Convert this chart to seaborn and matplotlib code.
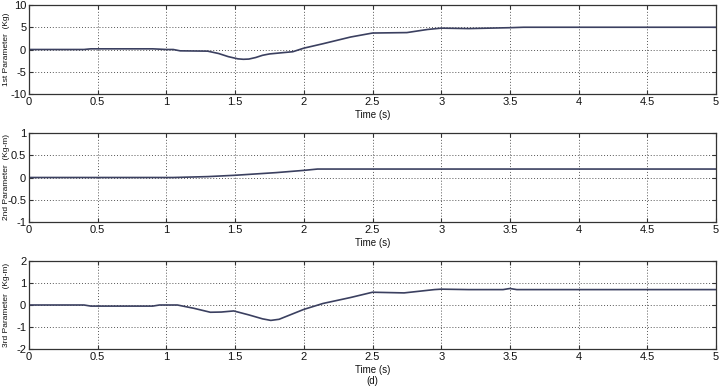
import numpy as np
import pandas as pd
import matplotlib
matplotlib.use("Agg")
import matplotlib.pyplot as plt
import seaborn as sns

# Data
t1 = [0.0, 0.4, 0.45, 0.9, 1.0, 1.05, 1.1, 1.3, 1.38, 1.45, 1.52, 1.56, 1.6, 1.65, 1.7, 1.75, 1.85, 1.92, 2.0, 2.14, 2.34, 2.5, 2.75, 2.9, 3.0, 3.2, 3.5, 3.6, 5.0]
p1 = [0.0, 0.0, 0.15, 0.15, 0.0, 0.0, -0.3, -0.37, -0.9, -1.6, -2.1, -2.2, -2.15, -1.8, -1.3, -1.0, -0.7, -0.5, 0.3, 1.3, 2.8, 3.7, 3.8, 4.5, 4.8, 4.7, 4.9, 5.0, 5.0]

t2 = [0.0, 1.05, 1.3, 1.5, 1.8, 2.0, 2.1, 5.0]
p2 = [0.0, 0.0, 0.02, 0.05, 0.11, 0.16, 0.19, 0.19]

t3 = [0.0, 0.4, 0.45, 0.9, 0.95, 1.08, 1.2, 1.32, 1.4, 1.49, 1.6, 1.7, 1.76, 1.82, 1.9, 2.0, 2.14, 2.34, 2.5, 2.73, 2.95, 3.0, 3.2, 3.45, 3.5, 3.55, 5.0]
p3 = [0.0, 0.0, -0.05, -0.05, 0.0, 0.0, -0.15, -0.33, -0.32, -0.27, -0.45, -0.63, -0.7, -0.65, -0.45, -0.2, 0.07, 0.34, 0.58, 0.55, 0.7, 0.72, 0.7, 0.7, 0.75, 0.7, 0.7]

ylabels = ["1st Parameter  (Kg)", "2nd Parameter  (Kg-m)", "3rd Parameter  (Kg-m)"]
ylims = [(-10, 10), (-1, 1), (-2, 2)]
yticks = [[-10, -5, 0, 5, 10], [-1, -0.5, 0, 0.5, 1], [-2, -1, 0, 1, 2]]
ytick_labels = [["-10", "-5", "0", "5", "10"], ["-1", "-0.5", "0", "0.5", "1"], ["-2", "-1", "0", "1", "2"]]
xticks = [0, 0.5, 1, 1.5, 2, 2.5, 3, 3.5, 4, 4.5, 5]
xtick_labels = ["0", "0.5", "1", "1.5", "2", "2.5", "3", "3.5", "4", "4.5", "5"]

sns.set_theme(style="white")
plt.rcParams["font.family"] = ["Liberation Sans", "DejaVu Sans"]

fig = plt.figure(figsize=(7.2, 3.91), dpi=100)
W, H = 720.0, 391.0
boxes = [(5, 94), (133, 222), (261, 349)]
left, right = 29, 716

series = [(t1, p1), (t2, p2), (t3, p3)]
for i, ((tt, pp), (top, bot)) in enumerate(zip(series, boxes)):
    ax = fig.add_axes([left / W, 1 - bot / H, (right - left) / W, (bot - top) / H])
    df = pd.DataFrame({"t": tt, "v": pp})
    sns.lineplot(data=df, x="t", y="v", ax=ax, color="#3b4060", linewidth=1.2)
    ax.set_xlim(0, 5)
    ax.set_ylim(*ylims[i])
    ax.set_xticks(xticks)
    ax.set_xticklabels(xtick_labels)
    ax.set_yticks(yticks[i])
    ax.set_yticklabels(ytick_labels[i])
    ax.grid(True, linestyle=(0, (1, 2)), color="#555555", linewidth=0.7)
    for s in ax.spines.values():
        s.set_visible(True)
        s.set_color("#333333")
        s.set_linewidth(0.9)
    ax.tick_params(axis="both", direction="in", length=3, width=0.8, color="#333333",
                   labelsize=8, pad=2, top=True, right=True, bottom=True, left=True,
                   labelcolor="#111111")
    ax.set_xlabel("Time (s)", fontsize=7, labelpad=2, color="#111111")
    ax.set_ylabel(ylabels[i], fontsize=6, color="#111111")
    ax.yaxis.set_label_coords((10 - left) / (right - left), 0.5)

fig.text(372 / W, 1 - 381 / H, "(d)", fontsize=7, ha="center", va="center", color="#111111")
fig.savefig("out.png", dpi=100)
